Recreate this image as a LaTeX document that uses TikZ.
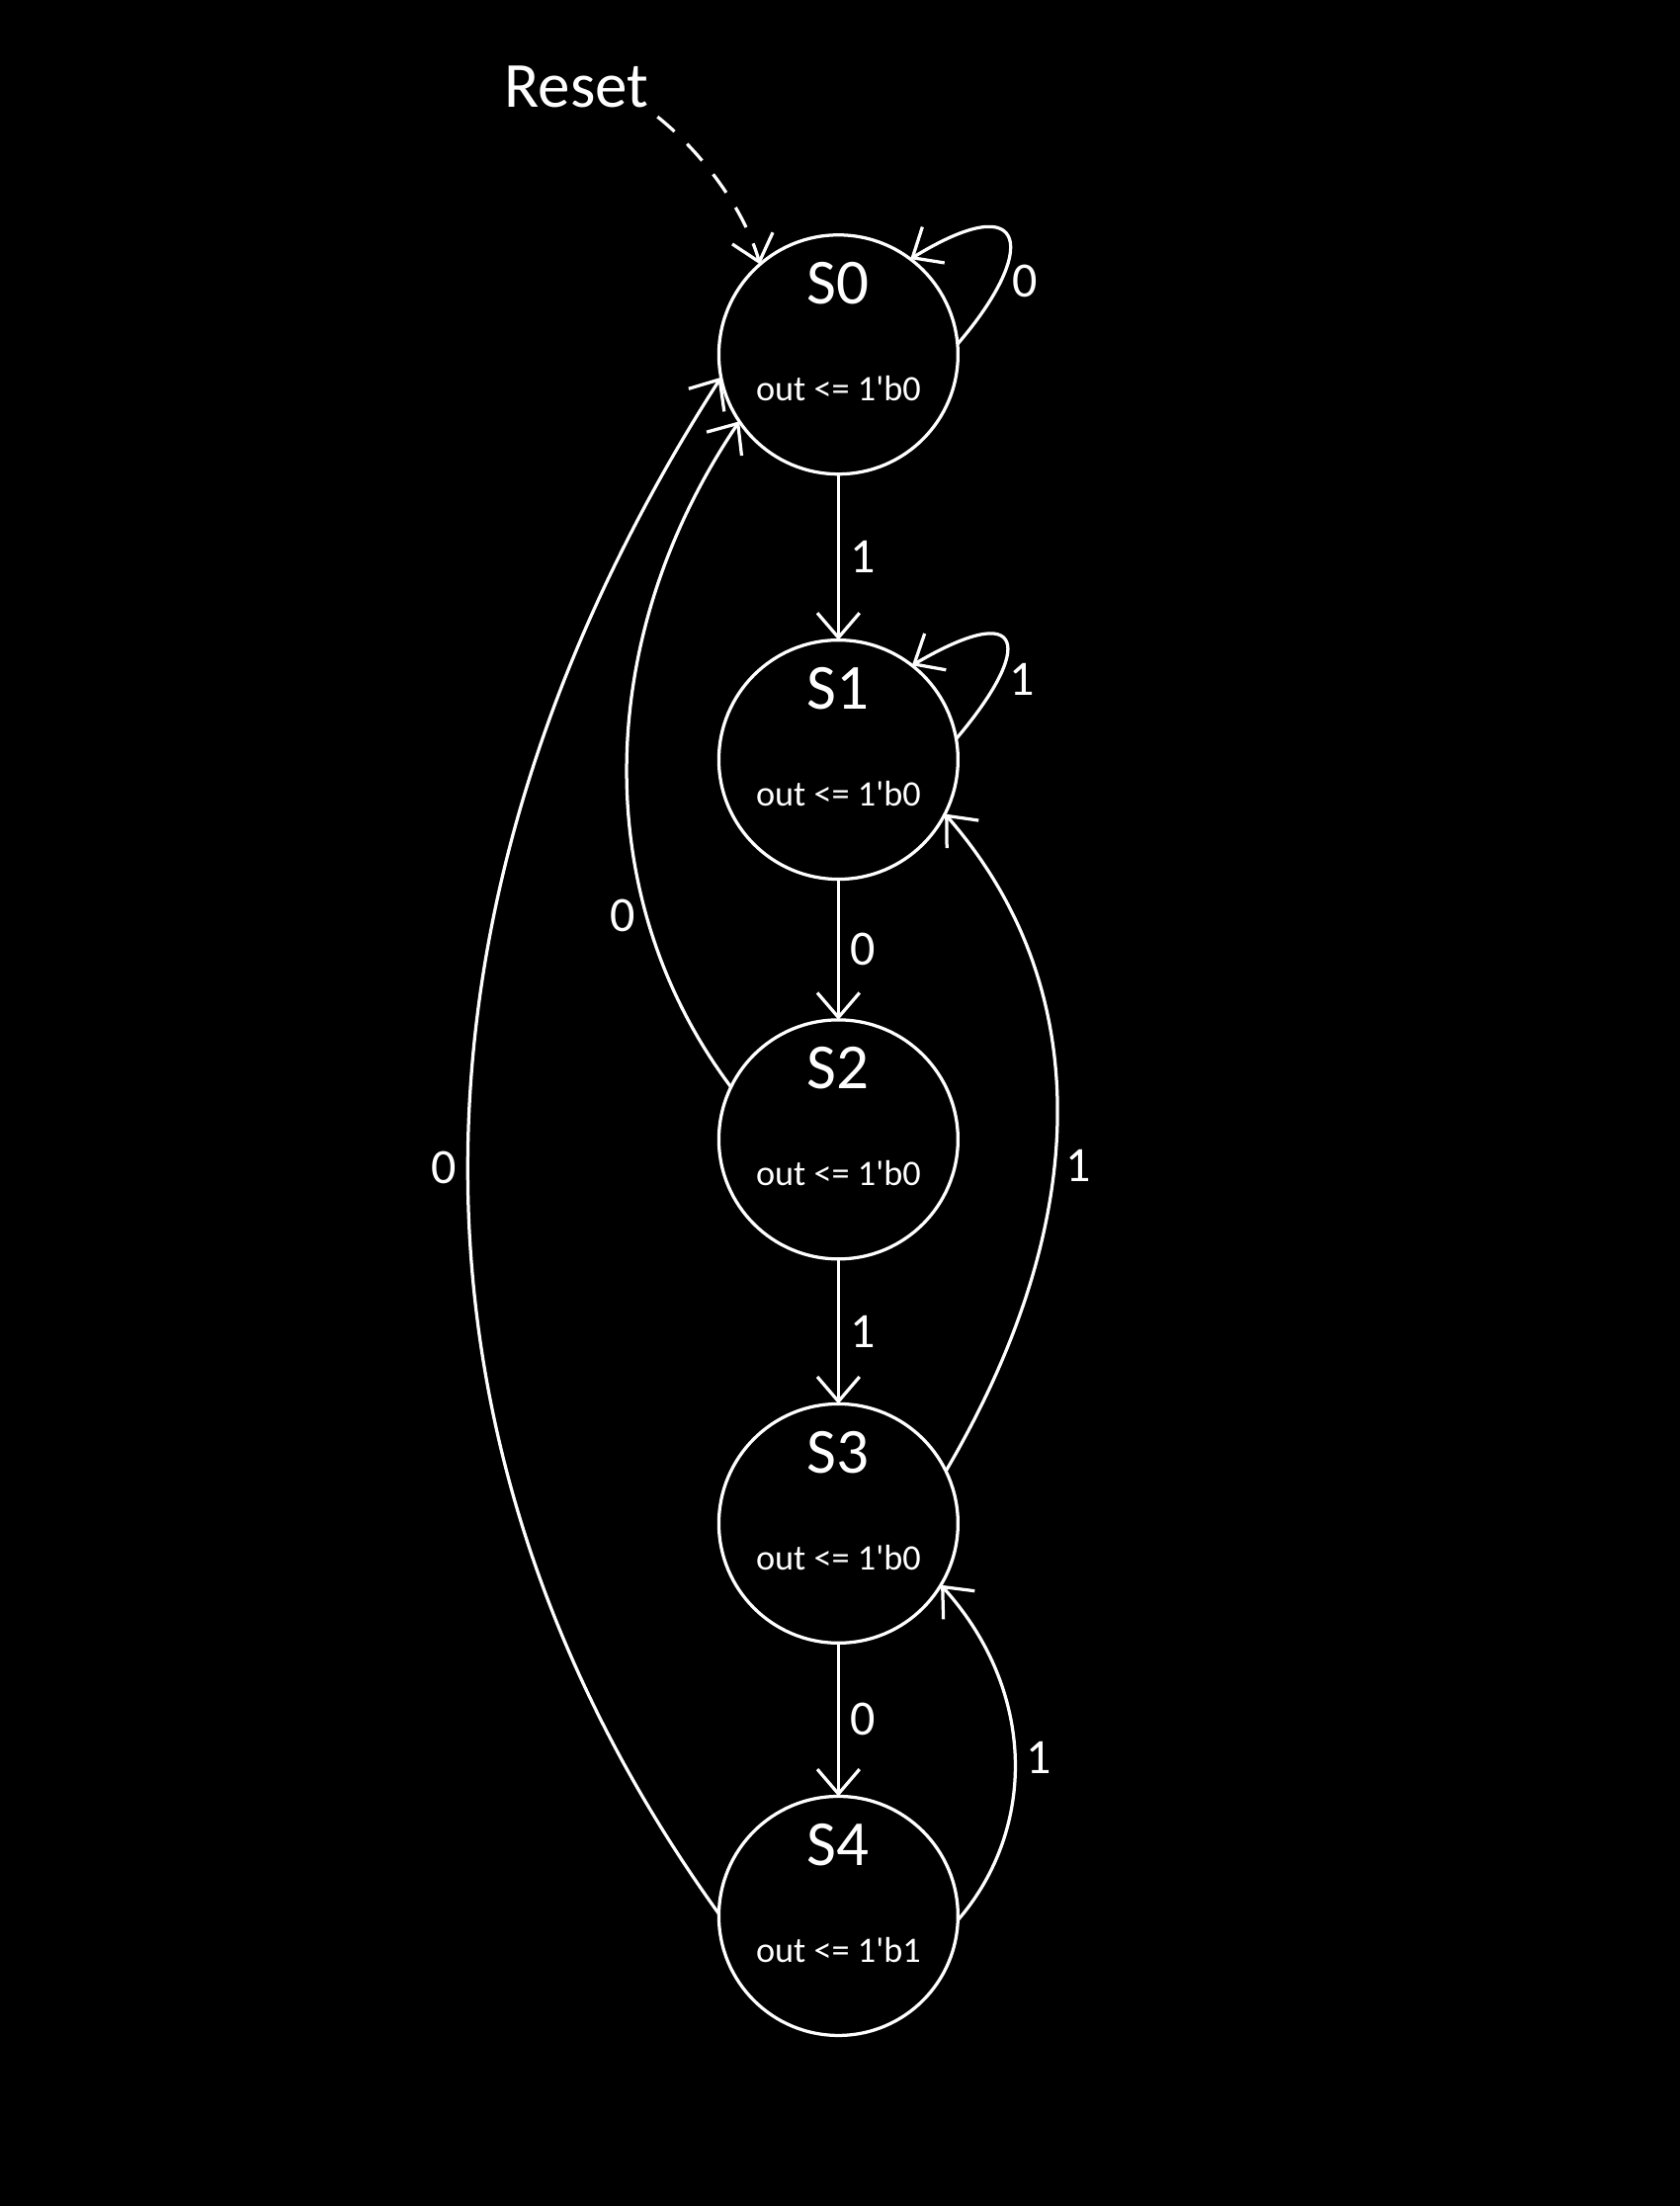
\documentclass[tikz,border=0pt]{standalone}
\usepackage{fontspec}
\setmainfont{Carlito}
\usetikzlibrary{arrows.meta,positioning}

\begin{document}
\begin{tikzpicture}[
  x=0.02cm, y=-0.02cm,
  state/.style={circle,draw=white,line width=1.3pt,minimum size=3.4cm,inner sep=0pt,outer sep=0pt},
  sname/.style={anchor=base,text=white,font=\fontsize{26}{26}\selectfont},
  sout/.style={anchor=base,text=white,font=\fontsize{14.5}{15}\selectfont},
  lbl/.style={text=white,font=\fontsize{20}{20}\selectfont,inner sep=4pt},
  tr/.style={-{Straight Barb[length=3.5mm,width=6mm]},draw=white,line width=1.3pt},
  rst/.style={tr,dash pattern=on 0.32cm off 0.25cm}]
  \fill[black] (0,0) rectangle (1194,1568);
  % states
  \node[state] (s0) at (596,252) {};
  \node[state,below=2.36cm of s0] (s1) {};
  \node[state,below=2.0cm of s1] (s2) {};
  \node[state,below=2.06cm of s2] (s3) {};
  \node[state,below=2.18cm of s3] (s4) {};
  \node[sname] (s0name) at ([yshift=0.72cm]s0.center) {S0};
  \node[sout] (s0out) at ([yshift=-0.66cm]s0.center) {out <= 1\textquotesingle b0};
  \node[sname] (s1name) at ([yshift=0.72cm]s1.center) {S1};
  \node[sout] (s1out) at ([yshift=-0.66cm]s1.center) {out <= 1\textquotesingle b0};
  \node[sname] (s2name) at ([yshift=0.72cm]s2.center) {S2};
  \node[sout] (s2out) at ([yshift=-0.66cm]s2.center) {out <= 1\textquotesingle b0};
  \node[sname] (s3name) at ([yshift=0.72cm]s3.center) {S3};
  \node[sout] (s3out) at ([yshift=-0.66cm]s3.center) {out <= 1\textquotesingle b0};
  \node[sname] (s4name) at ([yshift=0.72cm]s4.center) {S4};
  \node[sout] (s4out) at ([yshift=-0.66cm]s4.center) {out <= 1\textquotesingle b1};
  \node[text=white,font=\fontsize{26}{26}\selectfont] (reset) at (410,62) {Reset};
  % reset entry
  \draw[rst] (reset.south east) .. controls (495,105) and (528,145) .. (s0.131);
  % chain down the middle
  \draw[tr] (s0) -- node[lbl,right] {1} (s1);
  \draw[tr] (s1) -- node[lbl,right] {0} (s2);
  \draw[tr] (s2) -- node[lbl,right] {1} (s3);
  \draw[tr] (s3) -- node[lbl,right] {0} (s4);
  % self loops
  \draw[tr] (s0.5) .. controls (738,178) and (732,132) .. node[lbl,pos=0.25,right] {0} (s0.53);
  \draw[tr] (s1.10) .. controls (735,460) and (730,425) .. node[lbl,pos=0.25,right] {1} (s1.52);
  % back edges
  \draw[tr] (s2.154) .. controls (420,640) and (420,456) .. node[lbl,pos=0.28,left] {0} (s0.214);
  \draw[tr] (s4.179) .. controls (273,1030) and (273,641) .. node[lbl,pos=0.5,left] {0} (s0.191);
  \draw[tr] (s3.26) .. controls (778,866) and (778,700) .. node[lbl,pos=0.42,right] {1} (s1.-27);
  \draw[tr] (s4.-2) .. controls (737,1300) and (737,1202) .. node[lbl,pos=0.5,right] {1} (s3.-31);
\end{tikzpicture}
\end{document}
